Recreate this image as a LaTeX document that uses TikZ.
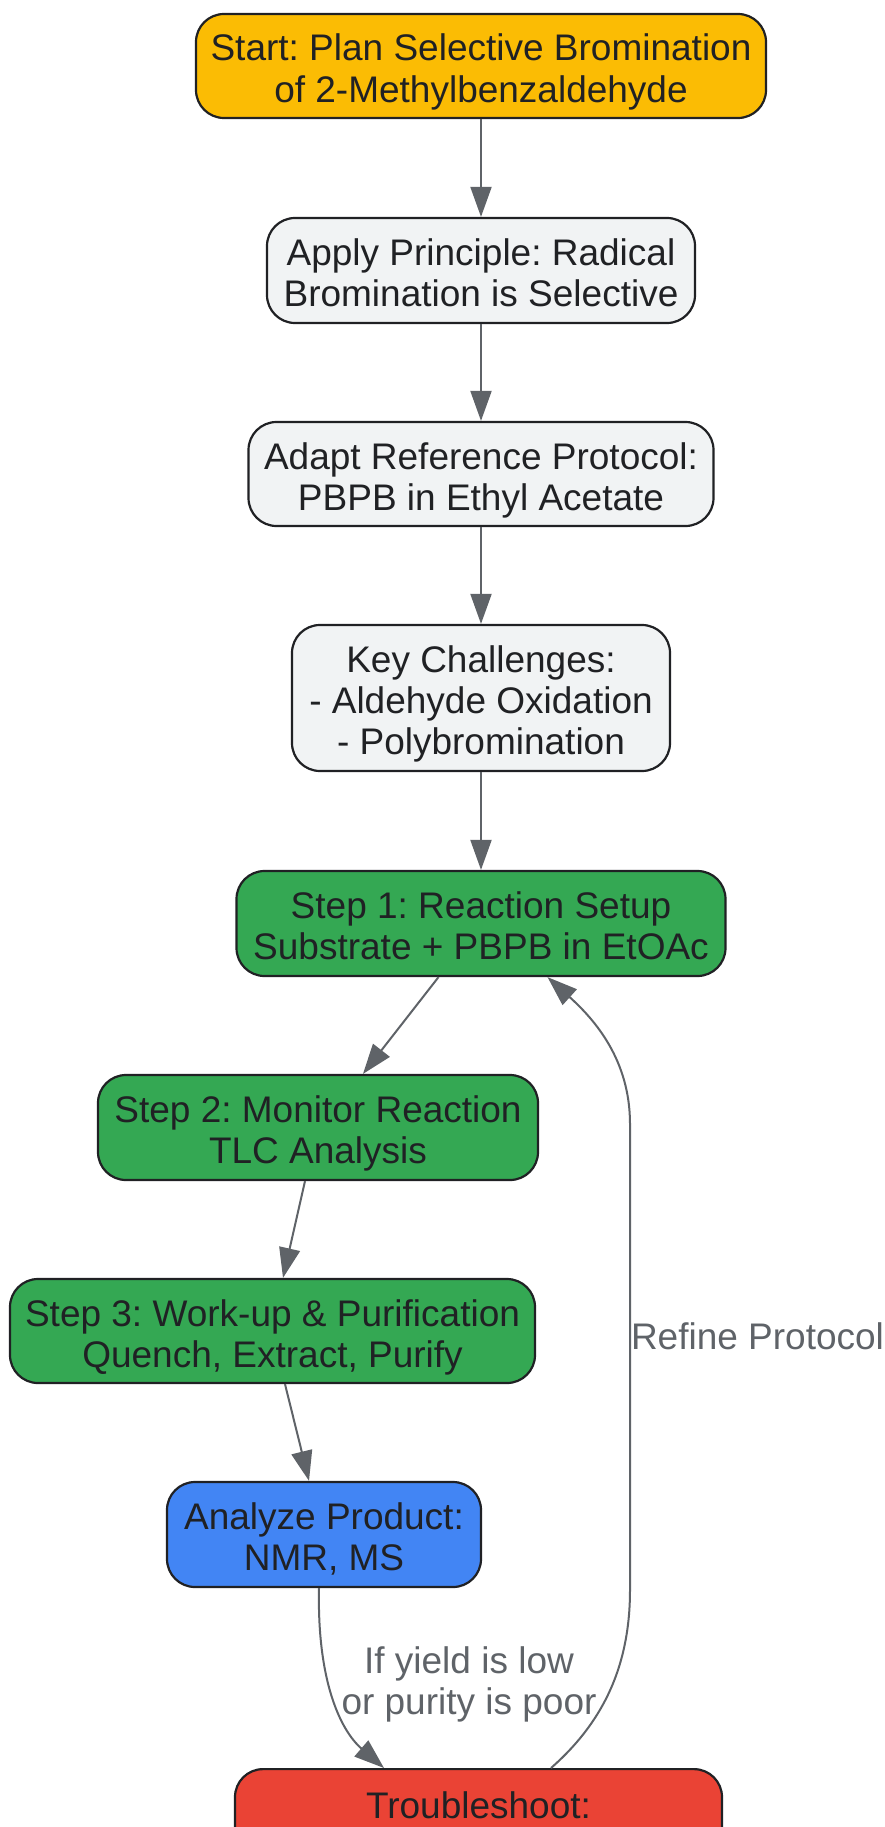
\documentclass[tikz,border=0pt]{standalone}
\usepackage{fontspec}
\setmainfont{Liberation Sans}
\usetikzlibrary{arrows.meta,calc}
\definecolor{cstart}{HTML}{FBBC04}
\definecolor{cgrey}{HTML}{F1F3F4}
\definecolor{cgreen}{HTML}{34A853}
\definecolor{cblue}{HTML}{4285F4}
\definecolor{cred}{HTML}{EA4335}
\definecolor{ctext}{HTML}{202124}
\definecolor{cedge}{HTML}{5F6368}
\definecolor{cborder}{HTML}{202124}
\newcommand{\tst}{\rule{0pt}{39.3pt}}
\newcommand{\bst}{\rule[-8pt]{0pt}{8pt}}
\frenchspacing
\begin{document}
\begin{tikzpicture}[x=1pt,y=-1pt,
  txt/.style={font=\fontsize{37}{41.3}\selectfont\frenchspacing, inner sep=0pt},
  box/.style={txt, draw=cborder, line width=2.2pt, rounded corners=28pt, align=center,
    text=ctext},
  conn/.style={draw=cedge, line width=2pt, -{Triangle[length=30pt,width=21pt]}},
  elabel/.style={txt, text=cedge, align=center}]
\useasboundingbox (0,0) rectangle (885,1827);
\clip (0,0) rectangle (885,1827);

\node[box, fill=cstart, minimum width=570pt, minimum height=104pt] (start) at (481,66)
  {\tst Start: Plan Selective Bromination\\of 2-Methylbenzaldehyde\bst};
\node[box, fill=cgrey, minimum width=428pt, minimum height=105pt] (apply) at (481,270.5)
  {\tst Apply Principle: Radical\\Bromination is Selective\bst};
\node[box, fill=cgrey, minimum width=465pt, minimum height=104pt] (adapt) at (481,474)
  {\tst Adapt Reference Protocol:\\PBPB in Ethyl Acetate\bst};
\node[box, fill=cgrey, minimum width=378pt, minimum height=146pt] (key) at (481,698)
  {\tst Key Challenges:\\- Aldehyde Oxidation\\- Polybromination\bst};
\node[box, fill=cgreen, minimum width=489pt, minimum height=105pt] (step1) at (481,923.5)
  {\tst Step 1: Reaction Setup\\Substrate + PBPB in EtOAc\bst};
\node[box, fill=cgreen, minimum width=440pt, minimum height=105pt] (step2) at (318,1127.5)
  {\tst Step 2: Monitor Reaction\\TLC Analysis\bst};
\node[box, fill=cgreen, minimum width=525pt, minimum height=104pt] (step3) at (272.5,1331)
  {\tst Step 3: Work-up \& Purification\\Quench, Extract, Purify\bst};
\node[box, fill=cblue, minimum width=314pt, minimum height=105pt] (analyze) at (324,1534.5)
  {\tst Analyze Product:\\NMR, MS\bst};
\node[draw=cborder, line width=2.2pt, rounded corners=28pt, fill=cred, minimum width=487pt,
  minimum height=200pt, inner sep=0pt, anchor=north] (trouble) at (478.5,1768) {};
\node[txt, text=ctext] (troubletxt) at (478.5,1805) {Troubleshoot:};

\draw[conn] (start.south) -- (apply.north);
\draw[conn] (apply.south) -- (adapt.north);
\draw[conn] (adapt.south) -- (key.north);
\draw[conn] (key.south) -- (step1.north);
\draw[conn] ([xshift=-42.5pt]step1.south) -- ([xshift=45pt]step2.north);
\draw[conn] ([xshift=-13pt]step2.south) -- ([xshift=10.5pt]step3.north);
\draw[conn] ([xshift=12.5pt]step3.south) -- ([xshift=-15pt]analyze.north);

\draw[conn] ([xshift=-5pt]analyze.south) .. controls (317,1680) and (340,1730) .. ([xshift=-94.5pt]trouble.north)
  node[elabel] at (469,1678) {\tst If yield is low\\or purity is poor\bst};

\coordinate (rA) at (630,1590);
\coordinate (rB) at (630,1124);
\draw[conn] ([xshift=72.5pt]trouble.north) .. controls (600,1725) and (630,1670) .. (rA)
  -- node[elabel, pos=0.55, anchor=west] {\tst Refine Protocol\bst} (rB)
  .. controls (630,1060) and (595,1020) .. ([xshift=66.5pt]step1.south);
\end{tikzpicture}
\end{document}
